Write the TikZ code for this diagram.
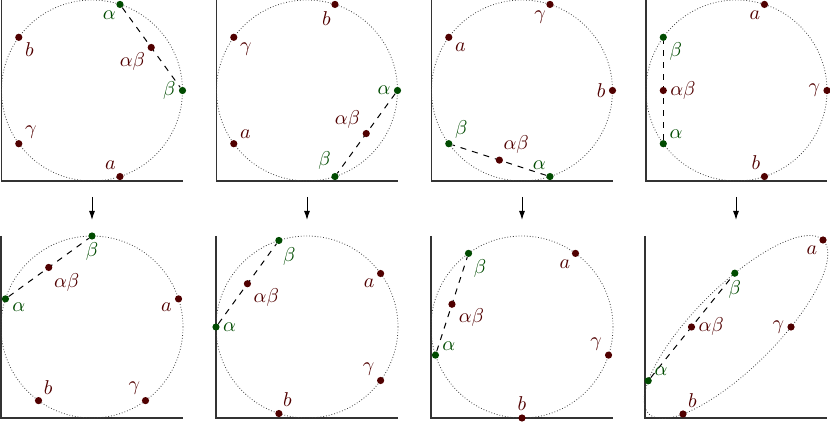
\documentclass[tikz,border=0pt]{standalone}
\usetikzlibrary{arrows.meta,calc,backgrounds}
\definecolor{ptred}{RGB}{80,0,0}
\definecolor{ptgreen}{RGB}{0,75,0}
\tikzset{
  dot/.style={circle,inner sep=0pt,minimum size=3.6pt},
  lab/.style={inner sep=1.3pt},
  circ/.style={draw=black!75,densely dotted,line width=0.4pt},
  chord/.style={draw=black,dashed,line width=0.5pt},
  axis/.style={draw=black!80,line width=0.6pt},
  arr/.style={draw=black,-{Latex[length=4.5pt,width=3pt]},line width=0.5pt},
}
% name, colour, centre, angle, radius, label angle, text
\newcommand\Pt[7]{\node[dot,fill=#2,label={[lab,text=#2]#6:{$#7$}}] (#1) at ($(#3)+(#4:#5)$) {};}
% name, first, second, label angle
\newcommand\Mid[4]{\node[dot,fill=ptred,label={[lab,text=ptred]#4:{$\alpha\beta$}}] (#1) at ($(#2)!0.5!(#3)$) {};}
\newcommand\Frame[3]{%
  \draw[axis] (#1-#3,#2+#3) -- (#1-#3,#2-#3) -- (#1+#3,#2-#3);
  \draw[circ] (#1,#2) circle (#3);}
\begin{document}
\begin{tikzpicture}[x=0.5pt,y=0.5pt]
\useasboundingbox (0,0) rectangle (830,423);
% centres
\coordinate (c1) at (92,332.5);
\coordinate (c2) at (307,332.5);
\coordinate (c3) at (522,332.5);
\coordinate (c4) at (736.5,332.5);
\coordinate (d1) at (92,96);
\coordinate (d2) at (307,96);
\coordinate (d3) at (522,96);
\coordinate (d4) at (736,96);
% frames
\Frame{92}{332.5}{90.5}
\Frame{307}{332.5}{90.5}
\Frame{522}{332.5}{90.5}
\Frame{736.5}{332.5}{90.5}
\Frame{92}{96}{91}
\Frame{307}{96}{91}
\Frame{522}{96}{91}
\draw[axis] (645,187) -- (645,5) -- (827,5);
\draw[circ,shift={(736,96)},cm={55,0,73.6,91.5,(0,0)}] (0,0) circle (1);
% top 1
\Pt{al1}{ptgreen}{c1}{72}{90.5}{252}{\alpha}
\Pt{be1}{ptgreen}{c1}{0}{90.5}{180}{\beta}
\Pt{b1}{ptred}{c1}{144}{90.5}{324}{b}
\Pt{g1}{ptred}{c1}{216}{90.5}{36}{\gamma}
\Pt{a1}{ptred}{c1}{288}{90.5}{108}{a}
\Mid{m1}{al1}{be1}{216}
% top 2
\Pt{b2}{ptred}{c2}{72}{90.5}{252}{b}
\Pt{g2}{ptred}{c2}{144}{90.5}{324}{\gamma}
\Pt{a2}{ptred}{c2}{216}{90.5}{36}{a}
\Pt{be2}{ptgreen}{c2}{288}{90.5}{108}{\beta}
\Pt{al2}{ptgreen}{c2}{0}{90.5}{180}{\alpha}
\Mid{m2}{al2}{be2}{144}
% top 3
\Pt{g3}{ptred}{c3}{72}{90.5}{252}{\gamma}
\Pt{a3}{ptred}{c3}{144}{90.5}{324}{a}
\Pt{be3}{ptgreen}{c3}{216}{90.5}{36}{\beta}
\Pt{al3}{ptgreen}{c3}{288}{90.5}{108}{\alpha}
\Pt{b3}{ptred}{c3}{0}{90.5}{180}{b}
\Mid{m3}{al3}{be3}{72}
% top 4
\Pt{a4}{ptred}{c4}{72}{90.5}{252}{a}
\Pt{be4}{ptgreen}{c4}{144}{90.5}{324}{\beta}
\Pt{al4}{ptgreen}{c4}{216}{90.5}{36}{\alpha}
\Pt{g4}{ptred}{c4}{0}{90.5}{180}{\gamma}
\Pt{b4}{ptred}{c4}{288}{90.5}{108}{b}
\Mid{m4}{al4}{be4}{0}
% bottom 1
\Pt{be5}{ptgreen}{d1}{90}{91}{270}{\beta}
\Pt{al5}{ptgreen}{d1}{162}{91}{342}{\alpha}
\Pt{b5}{ptred}{d1}{234}{91}{54}{b}
\Pt{g5}{ptred}{d1}{306}{91}{126}{\gamma}
\Pt{a5}{ptred}{d1}{18}{91}{198}{a}
\Mid{m5}{al5}{be5}{306}
% bottom 2
\Pt{a6}{ptred}{d2}{36}{91}{216}{a}
\Pt{be6}{ptgreen}{d2}{108}{91}{288}{\beta}
\Pt{al6}{ptgreen}{d2}{180}{91}{0}{\alpha}
\Pt{b6}{ptred}{d2}{252}{91}{72}{b}
\Pt{g6}{ptred}{d2}{324}{91}{144}{\gamma}
\Mid{m6}{al6}{be6}{324}
% bottom 3
\Pt{a7}{ptred}{d3}{54}{91}{234}{a}
\Pt{be7}{ptgreen}{d3}{126}{91}{306}{\beta}
\Pt{al7}{ptgreen}{d3}{198}{91}{18}{\alpha}
\Pt{b7}{ptred}{d3}{270}{91}{90}{b}
\Pt{g7}{ptred}{d3}{342}{91}{162}{\gamma}
\Mid{m7}{al7}{be7}{342}
% bottom 4 (ellipse)
\node[dot,fill=ptred,label={[lab,text=ptred]225:{$a$}}] (a8) at (823,183) {};
\node[dot,fill=ptgreen,label={[lab,text=ptgreen]270:{$\beta$}}] (be8) at (734.8,149.8) {};
\node[dot,fill=ptgreen,label={[lab,text=ptgreen]30:{$\alpha$}}] (al8) at (648.2,42.2) {};
\node[dot,fill=ptred,label={[lab,text=ptred]180:{$\gamma$}}] (g8) at (791,96) {};
\node[dot,fill=ptred,label={[lab,text=ptred]60:{$b$}}] (b8) at (683,9) {};
\Mid{m8}{al8}{be8}{0}
% chords
\begin{scope}[on background layer]
\foreach \i in {1,...,8}{\draw[chord] (al\i) -- (be\i);}
\end{scope}
% arrows
\coordinate (s1) at (92,226);   \coordinate (e1) at (92,203);
\coordinate (s2) at (307,226);  \coordinate (e2) at (307,203);
\coordinate (s3) at (522,226);  \coordinate (e3) at (522,203);
\coordinate (s4) at (736,226);  \coordinate (e4) at (736,203);
\foreach \i in {1,...,4}{\draw[arr] (s\i) -- (e\i);}
\end{tikzpicture}
\end{document}
